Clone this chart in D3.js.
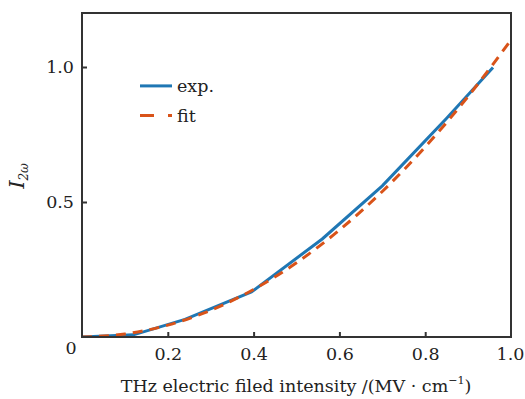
<!DOCTYPE html>
<html><head><meta charset="utf-8">
<script src="https://cdn.jsdelivr.net/npm/d3@7/dist/d3.min.js"></script>
<style>body{margin:0;background:#fff}svg{display:block}text{font-family:"DejaVu Serif",serif;fill:#222}</style>
</head><body><svg id="c" width="525" height="399"></svg>
<script>
const expX = [0, 0.12, 0.24, 0.395, 0.56, 0.70, 0.85, 0.958];
const expY = [0, 0.008, 0.065, 0.167, 0.363, 0.56, 0.81, 0.998];
const fitX = [0, 0.1, 0.2, 0.3, 0.4, 0.5, 0.6, 0.7, 0.8, 0.9, 1.0];
const fitY = [0, 0.011, 0.044, 0.099, 0.176, 0.275, 0.396, 0.539, 0.704, 0.891, 1.1];
const xTicks = [0.2, 0.4, 0.6, 0.8, 1.0];
const yTicks = [0.5, 1.0];
const seriesNames = ["exp.", "fit"];
const colors = ["#1f77b4", "#d95319"];
const FS = 17.5;

const svg = d3.select("#c");
const L = 82, R = 511, T = 13, B = 337;
const x = d3.scaleLinear().domain([0, 1]).range([L, R]);
const y = d3.scaleLinear().domain([0, 1.2]).range([B, T]);

const g = svg.append("g");
svg.append("clipPath").attr("id","clip").append("rect").attr("x",L).attr("y",T).attr("width",R-L).attr("height",B-T);

const line = d3.line().x(d => x(d[0])).y(d => y(d[1]));
const expData = expX.map((v,i)=>[v, expY[i]]);
const fitData = fitX.map((v,i)=>[v, fitY[i]]);
const plot = g.append("g").attr("clip-path","url(#clip)");
plot.append("path").datum(expData).attr("d", line).attr("fill","none")
  .attr("stroke", colors[0]).attr("stroke-width", 3);
plot.append("path").datum(fitData).attr("d", d3.line().x(d=>x(d[0])).y(d=>y(d[1])).curve(d3.curveMonotoneX)).attr("fill","none")
  .attr("stroke", colors[1]).attr("stroke-width", 3).attr("stroke-dasharray","10,7");

g.append("rect").attr("x",L).attr("y",T).attr("width",R-L).attr("height",B-T)
  .attr("fill","none").attr("stroke","#333").attr("stroke-width",2);

const xa = d3.axisBottom(x).tickValues(xTicks).tickSize(-5).tickPadding(11).tickFormat(d3.format(".1f"));
const gx = g.append("g").attr("transform",`translate(0,${B})`).call(xa);
gx.select(".domain").remove();
gx.selectAll(".tick line").attr("stroke","#333").attr("stroke-width",2);
gx.selectAll(".tick text").attr("font-size",FS).attr("font-family","DejaVu Serif").attr("fill","#222");
gx.selectAll(".tick").filter(d=>d===1.0).select("line").remove();
gx.selectAll(".tick").filter(d=>d===1.0).select("text").attr("x",-1);

const ya = d3.axisLeft(y).tickValues(yTicks).tickSize(-5).tickPadding(8).tickFormat(d3.format(".1f"));
const gy = g.append("g").attr("transform",`translate(${L},0)`).call(ya);
gy.select(".domain").remove();
gy.selectAll(".tick line").attr("stroke","#333").attr("stroke-width",2);
gy.selectAll(".tick text").attr("font-size",FS).attr("font-family","DejaVu Serif").attr("fill","#222");

g.append("text").attr("x",x(0)-11).attr("y",y(0)+17).attr("text-anchor","middle").attr("font-size",FS).text("0");

const xt = g.append("text").attr("x",296).attr("y",392).attr("text-anchor","middle").attr("font-size",FS);
xt.append("tspan").text("THz electric filed intensity /(MV · cm");
xt.append("tspan").attr("font-size",11).attr("dy",-8).text("−1");
xt.append("tspan").attr("dy",8).text(")");

const yt = g.append("text").attr("transform","translate(24,176) rotate(-90)").attr("text-anchor","middle")
  .attr("font-size",21).attr("font-style","italic");
yt.append("tspan").text("I");
yt.append("tspan").attr("font-size",12).attr("dy",4).text("2ω");

const lg = g.append("g");
lg.append("line").attr("x1",140).attr("x2",172).attr("y1",y(0.93)).attr("y2",y(0.93)).attr("stroke",colors[0]).attr("stroke-width",3);
lg.append("text").attr("x",177).attr("y",y(0.93)+6).attr("font-size",FS).text(seriesNames[0]);
lg.append("line").attr("x1",140).attr("x2",172).attr("y1",y(0.82)).attr("y2",y(0.82)).attr("stroke",colors[1]).attr("stroke-width",3).attr("stroke-dasharray","14,14");
lg.append("text").attr("x",177).attr("y",y(0.82)+6).attr("font-size",FS).text(seriesNames[1]);
</script></body></html>
